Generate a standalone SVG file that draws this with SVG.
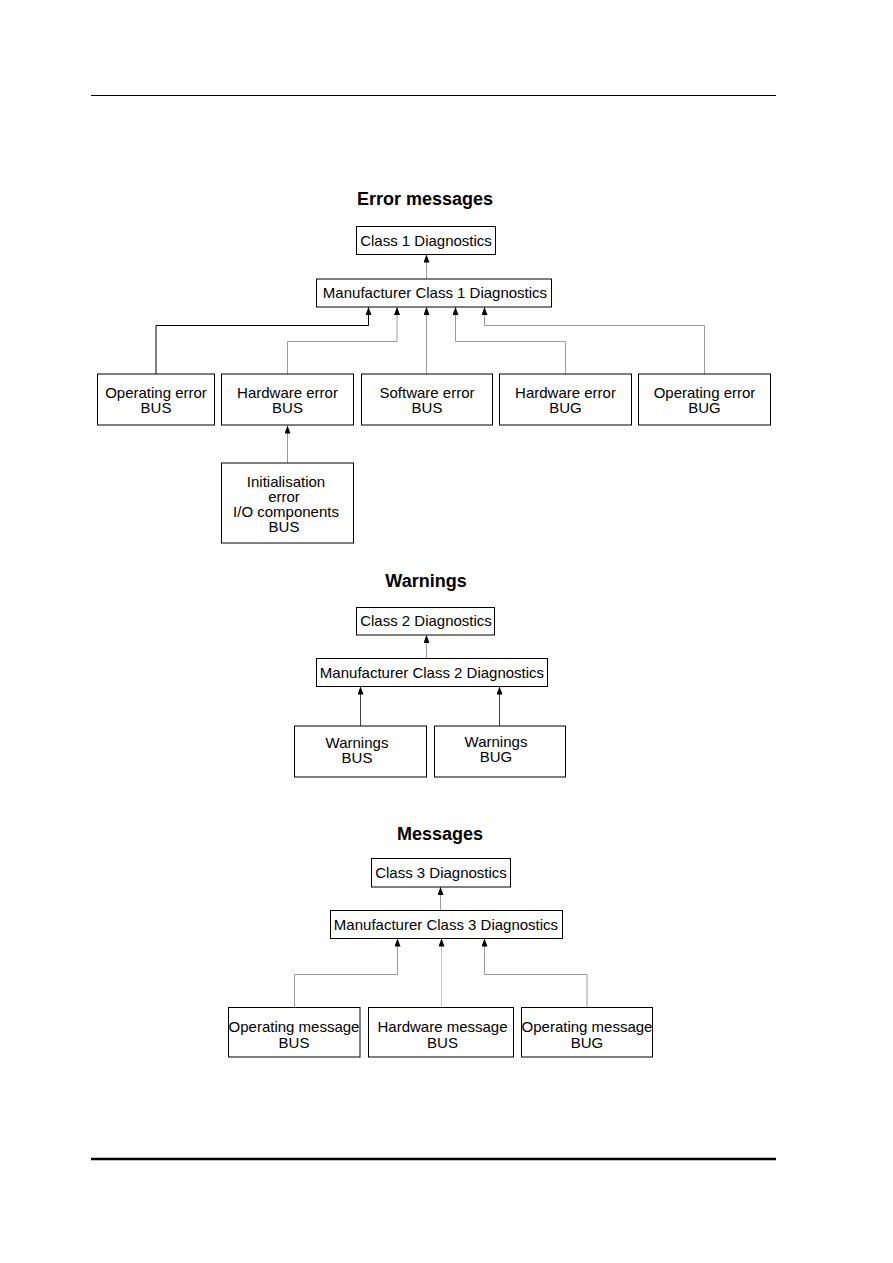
<svg xmlns="http://www.w3.org/2000/svg" width="893" height="1263" viewBox="0 0 893 1263">
  <style>
    .box { fill: #ffffff; stroke: #000000; stroke-width: 1; }
    .lbl { font-family: "Liberation Sans", Arial, Helvetica, sans-serif; font-size: 15px; fill: #000000; text-anchor: middle; }
    .title { font-family: "Liberation Sans", Arial, Helvetica, sans-serif; font-size: 18px; font-weight: bold; fill: #000000; text-anchor: middle; }
    .edge { fill: none; stroke: #9a9a9a; stroke-width: 1; marker-end: url(#arrow); }
    .edge-dark { fill: none; stroke: #000000; stroke-width: 1; marker-end: url(#arrow); }
    .edge-mid { fill: none; stroke: #444444; stroke-width: 1; marker-end: url(#arrow); }
    .edge-light { fill: none; stroke: #c8c8c8; stroke-width: 1; marker-end: url(#arrow); }
    .rule { stroke: #000000; }
  </style>
  <defs>
    <marker id="arrow" markerUnits="userSpaceOnUse" markerWidth="8" markerHeight="6" refX="8" refY="3" orient="auto">
      <path d="M0,0 L8,3 L0,6 z" fill="#000000"/>
    </marker>
  </defs>

  <rect x="0" y="0" width="893" height="1263" fill="#ffffff"/>

  <!-- page rules -->
  <line class="rule" x1="91" y1="95.5" x2="776" y2="95.5" stroke-width="1.2"/>
  <line class="rule" x1="91" y1="1159" x2="776" y2="1159" stroke-width="2.5"/>

  <!-- titles -->
  <text class="title" x="425" y="205">Error messages</text>
  <text class="title" x="426" y="587">Warnings</text>
  <text class="title" x="440" y="840">Messages</text>

  <!-- connectors -->
  <g id="connectors">
    <path class="edge" d="M426.5,279 V254.5"/>
    <path class="edge-dark" d="M156,374 V325.5 H368.5 V307"/>
    <path class="edge" d="M287.5,374 V341.5 H397 V307"/>
    <path class="edge" d="M426.5,374 V307"/>
    <path class="edge" d="M565.5,374 V341.5 H455.5 V307"/>
    <path class="edge" d="M704.5,374 V325.5 H484.5 V307"/>
    <path class="edge" d="M287.5,463 V425.5"/>

    <path class="edge" d="M426.5,658.5 V635"/>
    <path class="edge-mid" d="M360.5,726 V686.5"/>
    <path class="edge-mid" d="M499.5,726 V686.5"/>

    <path class="edge" d="M440.5,910.5 V887"/>
    <path class="edge" d="M294.5,1007.5 V974.5 H397.5 V938.5"/>
    <path class="edge-light" d="M441.5,1007.5 V938.5"/>
    <path class="edge" d="M587,1007.5 V974.5 H484.5 V938.5"/>
  </g>

  <!-- Error messages -->
  <g id="class1">
    <rect class="box" x="356.5" y="226.5" width="139" height="28"/>
    <text class="lbl" x="426" y="245.5">Class 1 Diagnostics</text>
  </g>
  <g id="manuf1">
    <rect class="box" x="316.5" y="279" width="235" height="28"/>
    <text class="lbl" x="435" y="298">Manufacturer Class 1 Diagnostics</text>
  </g>
  <g id="op-err-bus">
    <rect class="box" x="97.5" y="374" width="117" height="51"/>
    <text class="lbl" x="156" y="398">Operating error</text>
    <text class="lbl" x="156" y="413">BUS</text>
  </g>
  <g id="hw-err-bus">
    <rect class="box" x="221.5" y="374" width="132" height="51"/>
    <text class="lbl" x="287.5" y="398">Hardware error</text>
    <text class="lbl" x="287.5" y="413">BUS</text>
  </g>
  <g id="sw-err-bus">
    <rect class="box" x="361.5" y="374" width="131" height="51"/>
    <text class="lbl" x="427" y="398">Software error</text>
    <text class="lbl" x="427" y="413">BUS</text>
  </g>
  <g id="hw-err-bug">
    <rect class="box" x="499.5" y="374" width="132" height="51"/>
    <text class="lbl" x="565.5" y="398">Hardware error</text>
    <text class="lbl" x="565.5" y="413">BUG</text>
  </g>
  <g id="op-err-bug">
    <rect class="box" x="638.5" y="374" width="132" height="51"/>
    <text class="lbl" x="704.5" y="398">Operating error</text>
    <text class="lbl" x="704.5" y="413">BUG</text>
  </g>
  <g id="init-err">
    <rect class="box" x="221.5" y="463" width="132" height="80"/>
    <text class="lbl" x="286" y="487">Initialisation</text>
    <text class="lbl" x="284" y="502">error</text>
    <text class="lbl" x="286" y="517">I/O components</text>
    <text class="lbl" x="284" y="532">BUS</text>
  </g>

  <!-- Warnings -->
  <g id="class2">
    <rect class="box" x="356.5" y="607.5" width="138" height="27.5"/>
    <text class="lbl" x="426" y="626">Class 2 Diagnostics</text>
  </g>
  <g id="manuf2">
    <rect class="box" x="316.5" y="658.5" width="231" height="28"/>
    <text class="lbl" x="432" y="678">Manufacturer Class 2 Diagnostics</text>
  </g>
  <g id="warn-bus">
    <rect class="box" x="294.5" y="726" width="132" height="51"/>
    <text class="lbl" x="357" y="748">Warnings</text>
    <text class="lbl" x="357" y="763">BUS</text>
  </g>
  <g id="warn-bug">
    <rect class="box" x="434.5" y="726" width="131" height="51"/>
    <text class="lbl" x="496" y="747">Warnings</text>
    <text class="lbl" x="496" y="762">BUG</text>
  </g>

  <!-- Messages -->
  <g id="class3">
    <rect class="box" x="371.5" y="858.5" width="139" height="28.5"/>
    <text class="lbl" x="441" y="877.5">Class 3 Diagnostics</text>
  </g>
  <g id="manuf3">
    <rect class="box" x="330.5" y="910.5" width="232" height="28"/>
    <text class="lbl" x="446" y="929.5">Manufacturer Class 3 Diagnostics</text>
  </g>
  <g id="op-msg-bus">
    <rect class="box" x="228.5" y="1007.5" width="131.5" height="49.5"/>
    <text class="lbl" x="294" y="1032">Operating message</text>
    <text class="lbl" x="294" y="1047.5">BUS</text>
  </g>
  <g id="hw-msg-bus">
    <rect class="box" x="368.5" y="1007.5" width="145" height="49.5"/>
    <text class="lbl" x="442.5" y="1032">Hardware message</text>
    <text class="lbl" x="442.5" y="1047.5">BUS</text>
  </g>
  <g id="op-msg-bug">
    <rect class="box" x="521.5" y="1007.5" width="131" height="49.5"/>
    <text class="lbl" x="587" y="1032">Operating message</text>
    <text class="lbl" x="587" y="1047.5">BUG</text>
  </g>
</svg>
